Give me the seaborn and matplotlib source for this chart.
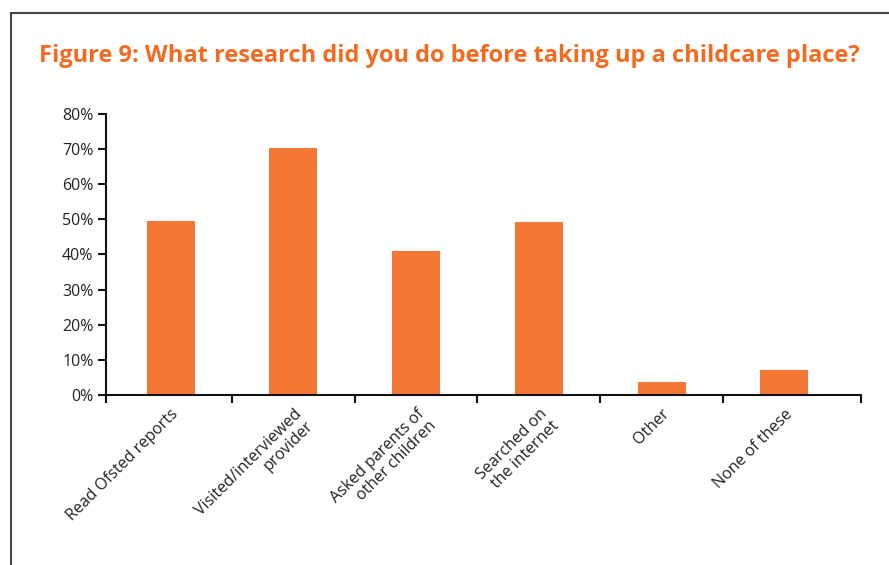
import matplotlib
matplotlib.use("Agg")
import matplotlib.pyplot as plt
import seaborn as sns
import pandas as pd
from matplotlib.lines import Line2D

categories = ["Read Ofsted reports", "Visited/interviewed\nprovider",
              "Asked parents of\nother children", "Searched on\nthe internet",
              "Other", "None of these"]
values = [49.6, 70.3, 41.0, 49.3, 3.7, 7.1]
yticks = [0, 10, 20, 30, 40, 50, 60, 70, 80]
title = "Figure 9: What research did you do before taking up a childcare place?"

sns.set_style("white")
plt.rcParams['font.family'] = ['Open Sans', 'DejaVu Sans']

df = pd.DataFrame({"cat": categories, "val": values})

fig = plt.figure(figsize=(8.89, 5.65), dpi=100)
ax = fig.add_axes([106/889, 1-395/565, (861-106)/889, (395-114)/565])

sns.barplot(data=df, x="cat", y="val", color="#F47735", width=0.39, ax=ax,
            saturation=1, edgecolor="none")

n = len(categories)
xmin = -0.526
xmax = n - 1.5 + 1.124
ax.set_ylim(0, 80)
ax.set_xlim(xmin, xmax)
ax.set_yticks(yticks)
ax.set_yticklabels([f"{v}%" for v in yticks], fontsize=11.5, color="#222222")
ax.set_xlabel("")
ax.set_ylabel("")

# boundary ticks (major) and centre labels (minor)
ax.set_xticks([xmin] + [i + 0.5 for i in range(n - 1)] + [xmax])
ax.set_xticklabels([])
ax.set_xticks(list(range(n)), minor=True)
ax.set_xticklabels(categories, minor=True, rotation=45, ha="right",
                   rotation_mode="anchor", fontsize=11.5, color="#222222",
                   linespacing=1.1)
ax.tick_params(axis="x", which="major", direction="out", length=6, width=1.5,
               color="#111111", bottom=True)
ax.tick_params(axis="x", which="minor", length=0, pad=8, bottom=True)
ax.tick_params(axis="y", direction="out", length=6, width=1.5, color="#111111",
               left=True, pad=3)

for s in ["top", "right"]:
    ax.spines[s].set_visible(False)
for s in ["left", "bottom"]:
    ax.spines[s].set_linewidth(1.5)
    ax.spines[s].set_color("#111111")

fig.text(449/889, 1 - 56/565, title, ha="center", va="center",
         fontsize=17, fontweight="bold", color="#F26B21")

# frame border
fig.add_artist(Line2D([10.5/889, 1.0], [1-12.5/565]*2, color="#444444", lw=1.5,
                      transform=fig.transFigure))
fig.add_artist(Line2D([10.5/889]*2, [0, 1-12.5/565], color="#444444", lw=1.5,
                      transform=fig.transFigure))

fig.savefig("out.png", dpi=100)
